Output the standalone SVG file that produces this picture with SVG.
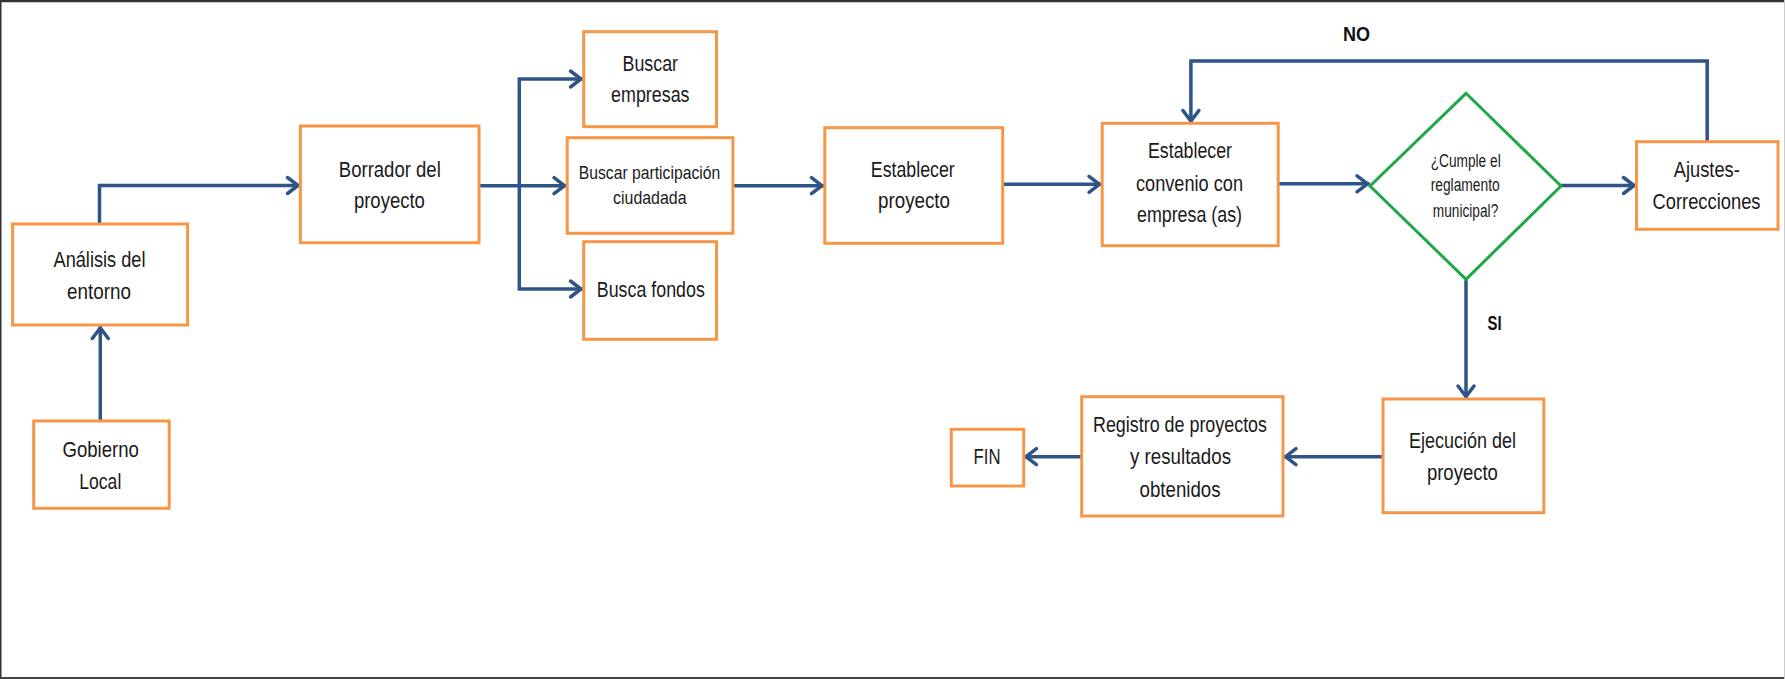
<svg xmlns="http://www.w3.org/2000/svg" width="1785" height="679" viewBox="0 0 1785 679">
  <style>
    .box { fill: #ffffff; stroke: #F79646; stroke-width: 3; }
    .dec { fill: #ffffff; stroke: #1FA84A; stroke-width: 3; }
    .t { font-family: "Liberation Sans", Arial, sans-serif; font-size: 22px; fill: #1a1a1a; text-anchor: middle; }
    .ts { font-size: 18.5px; }
    .td { font-size: 17.5px; }
    .lbl { font-family: "Liberation Sans", Arial, sans-serif; font-size: 21px; font-weight: bold; fill: #111111; text-anchor: middle; }
    .link { fill: none; stroke: #2F5487; stroke-width: 3.5; marker-end: url(#arrow); }
  </style>
  <defs>
    <marker id="arrow" markerUnits="userSpaceOnUse" markerWidth="20" markerHeight="20" viewBox="-15 -10 17 20" refX="0" refY="0" orient="auto" overflow="visible">
      <path d="M-12.5,-8 L-2,0 L-12.5,8" fill="none" stroke="#2F5487" stroke-width="3.5" stroke-linejoin="miter" stroke-linecap="round"/>
    </marker>
  </defs>

  <!-- page frame -->
  <rect x="0" y="0" width="1785" height="679" fill="#ffffff"/>
  <line x1="0" y1="1" x2="1785" y2="1" stroke="#333333" stroke-width="2.5"/>
  <line x1="0.75" y1="0" x2="0.75" y2="679" stroke="#333333" stroke-width="1.5"/>
  <line x1="0" y1="678" x2="1785" y2="678" stroke="#444444" stroke-width="2"/>
  <line x1="1784.5" y1="0" x2="1784.5" y2="679" stroke="#cccccc" stroke-width="1"/>

  <!-- connectors -->
  <g id="connectors">
    <path class="link" d="M99.5,224 V185.5 H300"/>
    <path class="link" d="M100.3,421 V326"/>
    <path class="link" d="M479,185.7 H566.5"/>
    <path class="link" d="M519.3,185.7 V79 H583"/>
    <path class="link" d="M519.3,185.7 V289 H583"/>
    <path class="link" d="M732.9,185.7 H824"/>
    <path class="link" d="M1002.7,184.3 H1101.5"/>
    <path class="link" d="M1278.2,183.8 H1369.5"/>
    <path class="link" d="M1561,185.5 H1636"/>
    <path class="link" d="M1707.2,141.7 V61 H1190.9 V123"/>
    <path class="link" d="M1466,279.3 V398.5"/>
    <path class="link" d="M1383,456.7 H1283.5"/>
    <path class="link" d="M1081.7,456.7 H1024"/>
    <text class="lbl" x="1356.4" y="40.7" textLength="27" lengthAdjust="spacingAndGlyphs">NO</text>
    <text class="lbl" x="1494.5" y="330" textLength="14" lengthAdjust="spacingAndGlyphs">SI</text>
  </g>

  <!-- nodes -->
  <g id="analisis">
    <rect class="box" x="12.6" y="224" width="175" height="101"/>
    <text class="t" x="99.5" y="266.5" textLength="92" lengthAdjust="spacingAndGlyphs">Análisis del</text>
    <text class="t" x="99" y="299" textLength="64" lengthAdjust="spacingAndGlyphs">entorno</text>
  </g>

  <g id="gobierno">
    <rect class="box" x="33.7" y="421" width="135.5" height="87.3"/>
    <text class="t" x="100.7" y="456.7" textLength="76.5" lengthAdjust="spacingAndGlyphs">Gobierno</text>
    <text class="t" x="100.3" y="489" textLength="42" lengthAdjust="spacingAndGlyphs">Local</text>
  </g>

  <g id="borrador">
    <rect class="box" x="300.4" y="126" width="178.6" height="116.7"/>
    <text class="t" x="389.8" y="176.7" textLength="102" lengthAdjust="spacingAndGlyphs">Borrador del</text>
    <text class="t" x="389.4" y="208" textLength="71" lengthAdjust="spacingAndGlyphs">proyecto</text>
  </g>

  <g id="buscar-empresas">
    <rect class="box" x="583.7" y="31.7" width="132.8" height="95"/>
    <text class="t" x="650.3" y="71" textLength="55.5" lengthAdjust="spacingAndGlyphs">Buscar</text>
    <text class="t" x="650.3" y="102" textLength="78.5" lengthAdjust="spacingAndGlyphs">empresas</text>
  </g>

  <g id="buscar-participacion">
    <rect class="box" x="567.2" y="137.7" width="165.7" height="95.6"/>
    <text class="t ts" x="649.5" y="179" textLength="141.6" lengthAdjust="spacingAndGlyphs">Buscar participación</text>
    <text class="t ts" x="649.8" y="204" textLength="73.5" lengthAdjust="spacingAndGlyphs">ciudadada</text>
  </g>

  <g id="busca-fondos">
    <rect class="box" x="583.7" y="241.7" width="132.8" height="97.6"/>
    <text class="t" x="650.8" y="296.7" textLength="108" lengthAdjust="spacingAndGlyphs">Busca fondos</text>
  </g>

  <g id="establecer-proyecto">
    <rect class="box" x="824.8" y="127.7" width="177.9" height="115.6"/>
    <text class="t" x="912.8" y="176.7" textLength="84" lengthAdjust="spacingAndGlyphs">Establecer</text>
    <text class="t" x="914" y="208" textLength="72" lengthAdjust="spacingAndGlyphs">proyecto</text>
  </g>

  <g id="establecer-convenio">
    <rect class="box" x="1102.2" y="123.3" width="176" height="122.4"/>
    <text class="t" x="1190" y="158.3" textLength="84" lengthAdjust="spacingAndGlyphs">Establecer</text>
    <text class="t" x="1189.5" y="190.7" textLength="107" lengthAdjust="spacingAndGlyphs">convenio con</text>
    <text class="t" x="1189.5" y="221.7" textLength="105" lengthAdjust="spacingAndGlyphs">empresa (as)</text>
  </g>

  <g id="cumple-reglamento">
    <polygon class="dec" points="1370,186 1466,93.3 1561,186 1466,279.3"/>
    <text class="t td" x="1465.7" y="167" textLength="70" lengthAdjust="spacingAndGlyphs">¿Cumple  el</text>
    <text class="t td" x="1465.2" y="190.5" textLength="69" lengthAdjust="spacingAndGlyphs">reglamento</text>
    <text class="t td" x="1465.5" y="217" textLength="65.5" lengthAdjust="spacingAndGlyphs">municipal?</text>
  </g>

  <g id="ajustes">
    <rect class="box" x="1636.5" y="141.7" width="141.5" height="87.6"/>
    <text class="t" x="1706.8" y="176.7" textLength="66" lengthAdjust="spacingAndGlyphs">Ajustes-</text>
    <text class="t" x="1706.5" y="209" textLength="108" lengthAdjust="spacingAndGlyphs">Correcciones</text>
  </g>

  <g id="ejecucion">
    <rect class="box" x="1383" y="399" width="160.8" height="113.7"/>
    <text class="t" x="1462.5" y="448.3" textLength="107" lengthAdjust="spacingAndGlyphs">Ejecución del</text>
    <text class="t" x="1462.4" y="480" textLength="71" lengthAdjust="spacingAndGlyphs">proyecto</text>
  </g>

  <g id="registro">
    <rect class="box" x="1081.7" y="396.7" width="201.3" height="119.3"/>
    <text class="t" x="1180" y="431.7" textLength="174" lengthAdjust="spacingAndGlyphs">Registro de proyectos</text>
    <text class="t" x="1180.5" y="464.3" textLength="101" lengthAdjust="spacingAndGlyphs">y resultados</text>
    <text class="t" x="1180.1" y="496.7" textLength="81" lengthAdjust="spacingAndGlyphs">obtenidos</text>
  </g>

  <g id="fin">
    <rect class="box" x="951.3" y="429.3" width="72.4" height="56.7"/>
    <text class="t" x="987" y="464.3" textLength="27" lengthAdjust="spacingAndGlyphs">FIN</text>
  </g>
</svg>
